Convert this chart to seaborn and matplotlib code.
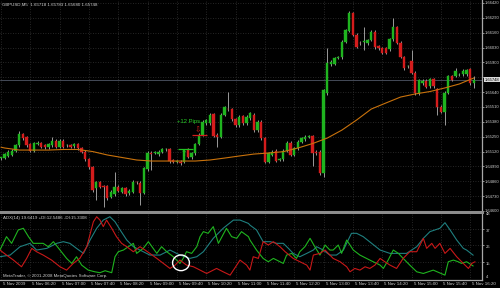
import numpy as np
import pandas as pd
import matplotlib
matplotlib.use("Agg")
import matplotlib.pyplot as plt
import seaborn as sns
from matplotlib.patches import Ellipse
from matplotlib.transforms import blended_transform_factory as blend

sns.set_theme(style="dark")
plt.rcParams['font.family'] = ['Liberation Sans', 'DejaVu Sans']

# ---------------- data ----------------
opens = [1.65060, 1.65066, 1.65084, 1.65090, 1.65127, 1.65177, 1.65273, 1.65245, 1.65186, 1.65127,
         1.65186, 1.65192, 1.65177, 1.65157, 1.65177, 1.65215, 1.65162, 1.65215, 1.65175, 1.65175,
         1.65168, 1.65186, 1.65148, 1.65119, 1.65052, 1.64982, 1.64798, 1.64853, 1.64818, 1.64818,
         1.64725, 1.64746, 1.64812, 1.64769, 1.64798, 1.64755, 1.64769, 1.64856, 1.64847, 1.64760,
         1.64965, 1.65110, 1.65108, 1.65098, 1.65119, 1.65138, 1.65140, 1.65046, 1.65029, 1.65031,
         1.65031, 1.65140, 1.65070, 1.65105, 1.65186, 1.65265, 1.65367, 1.65367, 1.65448, 1.65265,
         1.65250, 1.65440, 1.65492, 1.65490, 1.65402, 1.65352, 1.65431, 1.65367, 1.65411, 1.65440,
         1.65308, 1.65381, 1.65236, 1.65031, 1.65090, 1.65127, 1.65050, 1.65052, 1.65127, 1.65197,
         1.65090, 1.65148, 1.65206, 1.65227, 1.65250, 1.65256, 1.65119, 1.65119, 1.64930, 1.65630,
         1.65883, 1.65886, 1.65939, 1.65945, 1.66081, 1.66177, 1.66335, 1.66140, 1.66072, 1.66079,
         1.66067, 1.66096, 1.66169, 1.66043, 1.66023, 1.66023, 1.66015, 1.66102, 1.66207, 1.66072,
         1.65945, 1.65866, 1.65912, 1.65810, 1.65630, 1.65717, 1.65740, 1.65693, 1.65752, 1.65665,
         1.65512, 1.65469, 1.65635, 1.65781, 1.65781, 1.65788, 1.65798, 1.65798, 1.65840, 1.65718]
highs = [1.65075, 1.65109, 1.65132, 1.65140, 1.65190, 1.65302, 1.65285, 1.65258, 1.65199, 1.65205,
         1.65210, 1.65205, 1.65190, 1.65199, 1.65247, 1.65228, 1.65228, 1.65228, 1.65190, 1.65188,
         1.65196, 1.65199, 1.65161, 1.65132, 1.65065, 1.64995, 1.64866, 1.64866, 1.64831, 1.64831,
         1.64782, 1.64944, 1.64825, 1.64811, 1.64811, 1.64788, 1.64869, 1.64866, 1.64860, 1.64986,
         1.65123, 1.65123, 1.65123, 1.65132, 1.65153, 1.65153, 1.65153, 1.65059, 1.65044, 1.65044,
         1.65146, 1.65153, 1.65118, 1.65199, 1.65278, 1.65394, 1.65409, 1.65453, 1.65461, 1.65278,
         1.65453, 1.65520, 1.65644, 1.65503, 1.65415, 1.65438, 1.65444, 1.65438, 1.65468, 1.65453,
         1.65394, 1.65394, 1.65249, 1.65118, 1.65132, 1.65140, 1.65065, 1.65140, 1.65210, 1.65210,
         1.65161, 1.65219, 1.65249, 1.65263, 1.65269, 1.65269, 1.65132, 1.65132, 1.65671, 1.66026,
         1.65919, 1.65949, 1.65954, 1.66094, 1.66196, 1.66348, 1.66344, 1.66153, 1.66085, 1.66212,
         1.66109, 1.66182, 1.66182, 1.66056, 1.66036, 1.66036, 1.66115, 1.66286, 1.66220, 1.66085,
         1.65958, 1.65881, 1.66008, 1.65823, 1.65759, 1.65753, 1.65753, 1.65765, 1.65765, 1.65678,
         1.65525, 1.65648, 1.65794, 1.65794, 1.65848, 1.65803, 1.65840, 1.65846, 1.65853, 1.65783]
lows = [1.65045, 1.65053, 1.65071, 1.65077, 1.65114, 1.65162, 1.65223, 1.65164, 1.65114, 1.65114,
        1.65173, 1.65149, 1.65144, 1.65144, 1.65164, 1.65149, 1.65149, 1.65149, 1.65164, 1.65149,
        1.65155, 1.65135, 1.65106, 1.65039, 1.64969, 1.64770, 1.64696, 1.64799, 1.64637, 1.64698,
        1.64712, 1.64733, 1.64764, 1.64756, 1.64733, 1.64742, 1.64756, 1.64840, 1.64652, 1.64747,
        1.64952, 1.64958, 1.65097, 1.65085, 1.65106, 1.65127, 1.65024, 1.65018, 1.65018, 1.65004,
        1.65018, 1.65062, 1.65057, 1.65092, 1.65173, 1.65252, 1.65354, 1.65354, 1.65243, 1.65162,
        1.65237, 1.65427, 1.65477, 1.65389, 1.65339, 1.65339, 1.65354, 1.65354, 1.65398, 1.65295,
        1.65295, 1.65223, 1.65018, 1.65018, 1.65077, 1.65027, 1.65039, 1.65039, 1.65114, 1.65077,
        1.65077, 1.65135, 1.65193, 1.65214, 1.65237, 1.64996, 1.65092, 1.64917, 1.64900, 1.65617,
        1.65870, 1.65873, 1.65928, 1.65932, 1.66068, 1.66164, 1.66127, 1.66024, 1.66054, 1.66008,
        1.66054, 1.66083, 1.66019, 1.66010, 1.65972, 1.65972, 1.66002, 1.66089, 1.66059, 1.65937,
        1.65835, 1.65855, 1.65797, 1.65617, 1.65617, 1.65704, 1.65674, 1.65680, 1.65680, 1.65440,
        1.65456, 1.65352, 1.65622, 1.65733, 1.65768, 1.65777, 1.65785, 1.65785, 1.65704, 1.65680]
closes = [1.65068, 1.65096, 1.65119, 1.65127, 1.65177, 1.65273, 1.65236, 1.65177, 1.65127, 1.65192,
          1.65197, 1.65162, 1.65157, 1.65186, 1.65215, 1.65162, 1.65215, 1.65162, 1.65179, 1.65162,
          1.65183, 1.65148, 1.65119, 1.65052, 1.64982, 1.64783, 1.64853, 1.64812, 1.64807, 1.64711,
          1.64769, 1.64812, 1.64777, 1.64798, 1.64746, 1.64775, 1.64856, 1.64851, 1.64760, 1.64973,
          1.65110, 1.65098, 1.65112, 1.65119, 1.65140, 1.65142, 1.65037, 1.65031, 1.65033, 1.65017,
          1.65133, 1.65075, 1.65105, 1.65186, 1.65265, 1.65381, 1.65396, 1.65440, 1.65256, 1.65250,
          1.65440, 1.65507, 1.65488, 1.65402, 1.65352, 1.65425, 1.65367, 1.65425, 1.65455, 1.65308,
          1.65381, 1.65236, 1.65031, 1.65105, 1.65119, 1.65040, 1.65054, 1.65127, 1.65197, 1.65090,
          1.65148, 1.65206, 1.65236, 1.65250, 1.65256, 1.65105, 1.65105, 1.64930, 1.65658, 1.65892,
          1.65906, 1.65936, 1.65943, 1.66081, 1.66183, 1.66335, 1.66140, 1.66037, 1.66067, 1.66083,
          1.66096, 1.66169, 1.66032, 1.66023, 1.65985, 1.65985, 1.66102, 1.66212, 1.66072, 1.65950,
          1.65848, 1.65870, 1.65810, 1.65630, 1.65746, 1.65740, 1.65687, 1.65752, 1.65693, 1.65512,
          1.65469, 1.65635, 1.65781, 1.65746, 1.65827, 1.65792, 1.65827, 1.65833, 1.65717, 1.65748]

ma_bars = [0, 1, 5, 9, 13, 17, 21, 25, 29, 33, 37, 41, 45, 49, 53, 57, 61, 65, 69, 73, 77, 81, 85,
           89, 93, 97, 101, 105, 109, 113, 117, 121, 125, 129]
ma_vals = [1.65158, 1.65151, 1.65133, 1.65133, 1.65133, 1.65138, 1.65138, 1.65120, 1.65090, 1.65068,
           1.65046, 1.65037, 1.65037, 1.65037, 1.65037, 1.65046, 1.65063, 1.65081, 1.65098, 1.65107,
           1.65119, 1.65151, 1.65190, 1.65238, 1.65308, 1.65396, 1.65492, 1.65545, 1.65597, 1.65624,
           1.65645, 1.65676, 1.65711, 1.65764]

adx_bars = [-0.3, 2.5, 5.2, 7.9, 9.7, 12.5, 15.2, 17.0, 18.8, 20.6, 22.5, 24.3, 26.1, 27.9, 29.7,
            31.1, 32.5, 34.3, 36.1, 37.9, 40.6, 43.4, 46.1, 48.8, 51.5, 53.4, 55.2, 57.9, 60.6, 63.4,
            65.2, 67.5, 67.9, 69.7, 71.5, 73.4, 75.2, 77.0, 78.4, 79.7, 81.5, 83.4, 85.2, 86.1, 87.9,
            89.7, 91.5, 93.4, 94.7, 95.6, 97.0, 98.8, 101.1, 103.4, 106.1, 110.6, 113.4, 115.2, 117.0,
            119.7, 121.1, 122.5, 124.3, 126.1, 127.0, 128.8]
adx_vals = [18.6, 19.7, 25.2, 27.4, 23.0, 24.1, 27.4, 28.5, 27.4, 24.1, 20.8, 29.6, 37.3, 42.7, 44.9,
            41.6, 36.2, 29.6, 25.2, 23.0, 19.7, 19.7, 23.0, 19.7, 17.5, 18.6, 21.9, 30.7, 37.3, 42.7,
            42.7, 40.5, 39.4, 36.2, 28.5, 28.5, 27.4, 27.4, 24.1, 20.8, 18.6, 20.8, 23.0, 25.2, 23.0,
            19.7, 19.7, 23.0, 29.6, 34.0, 34.0, 31.8, 27.4, 23.0, 20.8, 20.8, 25.2, 30.7, 35.1,
            37.3, 41.0, 36.2, 29.6, 24.1, 23.0, 19.6]

pdi_bars = [-0.3, 1.5, 2.9, 4.7, 6.1, 7.5, 8.8, 10.2, 11.5, 12.9, 14.3, 16.1, 17.9, 19.3, 20.6, 22.0,
            23.8, 25.6, 27.0, 28.4, 30.2, 31.1, 32.0, 33.4, 36.1, 37.0, 38.8, 40.2, 42.5, 43.8, 45.2,
            47.0, 48.8, 49.7, 50.6, 52.0, 53.4, 54.3, 55.2, 56.5, 57.9, 59.3, 61.5, 62.9, 64.3, 65.6,
            67.5, 67.9, 69.7, 71.5, 72.9, 74.3, 77.0, 77.9, 79.3, 80.6, 81.5, 82.9, 84.3, 85.6, 87.0,
            88.4, 89.7, 90.6, 92.0, 92.9, 94.3, 96.1, 97.9, 100.6, 103.4, 104.3, 105.6, 107.0, 108.4,
            109.7, 111.5, 113.4, 115.2, 117.9, 121.1, 122.0, 123.4, 124.7, 125.6, 127.0, 128.8]
pdi_vals = [23.0, 31.8, 27.4, 36.2, 37.3, 31.8, 27.4, 27.4, 27.4, 25.2, 28.5, 23.0, 17.5, 14.2, 18.6,
            13.1, 9.8, 8.7, 8.1, 9.4, 8.1, 18.6, 21.9, 23.0, 27.4, 20.8, 24.1, 28.5, 20.8, 25.2, 21.9,
            18.6, 14.2, 17.5, 21.9, 20.8, 25.2, 31.8, 35.1, 34.0, 38.4, 27.4, 37.3, 31.8, 30.7, 35.1,
            31.8, 29.6, 23.0, 17.5, 15.3, 17.5, 14.2, 19.7, 20.8, 17.5, 21.9, 25.2, 30.7, 25.2, 19.7,
            26.3, 23.0, 23.0, 26.3, 20.8, 29.6, 23.0, 19.7, 16.4, 13.1, 10.9, 16.4, 23.0, 20.8,
            17.5, 13.1, 8.7, 7.6, 9.8, 6.5, 15.3, 16.4, 15.3, 14.2, 15.3, 12.5]

mdi_bars = [-0.3, 1.5, 3.4, 5.6, 7.0, 8.4, 9.7, 11.5, 13.8, 16.1, 17.9, 19.7, 21.5, 23.4, 25.2, 26.1,
            27.0, 27.9, 28.8, 30.2, 31.5, 32.9, 34.3, 36.1, 37.9, 39.3, 40.6, 42.5, 44.3, 46.1, 47.5,
            48.8, 50.6, 52.5, 54.3, 56.1, 58.8, 60.6, 62.5, 64.3, 65.2, 67.0, 67.9, 68.8, 70.2, 71.5,
            72.9, 74.3, 76.1, 77.5, 79.7, 83.4, 84.3, 85.2, 87.0, 88.4, 90.6, 92.5, 94.3, 95.2, 96.5,
            97.9, 99.3, 100.6, 102.0, 103.4, 104.7, 106.1, 107.9, 109.7, 111.5, 113.4, 115.2, 116.1,
            117.5, 118.4, 119.7, 121.1, 122.5, 124.3, 126.1, 127.5, 128.4, 129.3]
mdi_vals = [23.0, 19.7, 16.4, 12.0, 17.5, 24.1, 21.9, 19.7, 16.4, 12.0, 9.8, 14.2, 17.5, 25.2, 41.6,
            44.9, 42.7, 38.4, 42.7, 37.3, 31.8, 27.4, 25.2, 21.9, 25.2, 23.0, 20.8, 17.5, 14.2, 10.9,
            13.1, 16.4, 13.1, 12.0, 9.8, 7.6, 10.9, 8.7, 6.5, 13.1, 16.4, 13.1, 9.8, 18.6, 17.5, 28.5,
            26.3, 28.5, 25.2, 21.9, 17.5, 13.1, 9.8, 19.7, 20.8, 23.0, 17.5, 15.3, 12.0, 8.7, 10.9,
            9.8, 12.0, 10.9, 13.1, 17.5, 15.3, 13.1, 10.9, 17.5, 21.9, 21.9, 30.7, 24.1,
            27.4, 24.1, 27.4, 20.8, 24.1, 18.6, 14.2, 10.9, 14.2, 15.3]

price_levels = [1.66420, 1.66290, 1.66160, 1.66030, 1.65900, 1.65770, 1.65640, 1.65510,
                1.65380, 1.65250, 1.65120, 1.64990, 1.64860, 1.64730, 1.64600]
time_ticks = [0, 8, 16, 24, 32, 40, 48, 56, 64, 72, 80, 88, 96, 104, 112, 120, 128]
time_labels = ["5 Nov 2009", "5 Nov 06:20", "5 Nov 07:00", "5 Nov 07:40", "5 Nov 08:20",
               "5 Nov 09:00", "5 Nov 09:40", "5 Nov 10:20", "5 Nov 11:00", "5 Nov 11:40",
               "5 Nov 12:20", "5 Nov 13:00", "5 Nov 13:40", "5 Nov 14:20", "5 Nov 15:00",
               "5 Nov 15:40", "5 Nov 16:20"]
adx_levels = [48, 37, 26, 15, 4]
header = "GBPUSD,M5  1.65718 1.65783 1.65680 1.65748"
adx_header = "ADX(14) 19.6419 +DI:12.5486 -DI:15.3308"
copyright_text = "MetaTrader, \u00a9 2001-2008 MetaQuotes Software Corp."
last_price = 1.65748
entry_price, exit_price = 1.65142, 1.65265
entry_bars, exit_bars = (48.3, 52.4), (52.1, 56.2)

# ---------------- styling ----------------
BG = "black"
TXT = "#cfcfcf"
UP = "#1fb41f"
DN = "#d41c1c"
WICK = "#9a9a9a"
GRID = "#333333"
FS = 3.2
FSP = 3.0

W, H = 500, 288
fig = plt.figure(figsize=(W / 100, H / 100), dpi=100, facecolor=BG)
ax1 = fig.add_axes([0, 1 - 212 / H, 482 / W, 212 / H])
ax2 = fig.add_axes([0, 1 - 280 / H, 482 / W, (280 - 214) / H])

xl = (-0.27, 131.2)
for ax in (ax1, ax2):
    ax.set_facecolor(BG)
    ax.set_xlim(*xl)
    for s in ("left", "top"):
        ax.spines[s].set_visible(False)
    ax.spines["right"].set_color("#a8a8a8")
    ax.spines["right"].set_linewidth(0.9)
    ax.set_xticks(time_ticks)
    ax.grid(True, linestyle=(0, (1, 2)), color=GRID, linewidth=0.6)
ax1.spines["bottom"].set_color("#8c8c8c")
ax1.spines["bottom"].set_linewidth(2.2)
ax2.spines["bottom"].set_color("#a8a8a8")
ax2.spines["bottom"].set_linewidth(0.9)

ax1.set_ylim(1.64591, 1.66446)
ax2.set_ylim(3.3, 46.7)

# candles
n = len(opens)
x = np.arange(n)
df = pd.DataFrame({"bar": x, "open": opens, "high": highs, "low": lows, "close": closes})
up = df["close"] >= df["open"]
cols = np.where(up, UP, DN)
ax1.vlines(df["bar"], df["low"], df["high"], color=WICK, linewidth=0.7, zorder=2)
body_lo = np.minimum(df["open"], df["close"])
body_h = np.maximum(np.abs(df["close"] - df["open"]), 0.000025)
ax1.bar(df["bar"], body_h, bottom=body_lo, width=0.64, color=cols, edgecolor=cols,
        linewidth=0.3, zorder=3)

# moving average
sns.lineplot(x=ma_bars, y=ma_vals, ax=ax1, color="#c9720c", linewidth=0.8,
             estimator=None, sort=False, zorder=4)
ax1.axhline(last_price, color="#454b58", linewidth=0.7, zorder=1)

# trade annotations
ax1.hlines(entry_price, *entry_bars, color="#22c022", linewidth=0.9, zorder=5)
ax1.hlines(exit_price, *exit_bars, color="#d41c1c", linewidth=0.9, zorder=5)
ax1.text(50.0, 1.65103, "\u21e7", color="#22c022", fontsize=5.5, ha="center", va="center",
         zorder=6, family="DejaVu Sans")
ax1.text(53.7, 1.65304, "\u21e9", color="#d41c1c", fontsize=5.5, ha="center", va="center",
         zorder=6, family="DejaVu Sans")
ax1.text(48.0, 1.65379, "+12 Pips", color="#26d026", fontsize=4.2, ha="left", va="center", zorder=6)

# price axis
ax1.yaxis.tick_right()
ax1.set_yticks(price_levels)
ax1.set_yticklabels(["" if abs(p - last_price) < 0.0004 else f"{p:.5f}" for p in price_levels])
ax1.tick_params(axis="y", colors="#a8a8a8", labelcolor=TXT, labelsize=FSP, length=1.5,
                width=0.6, pad=0.6, direction="out")
ax1.tick_params(axis="x", length=0, labelbottom=False)
blend1 = blend(ax1.transAxes, ax1.transData)
ax1.text(1.0 + 2.6 / 482, last_price, f"{last_price:.5f}", transform=blend1, fontsize=FSP,
         color="black", ha="left", va="center", clip_on=False, zorder=10,
         bbox=dict(boxstyle="square,pad=0.15", fc="#d9d9d9", ec="none"))
fig.text(2 / W, 1 - 5 / H, header, fontsize=FS, color=TXT, ha="left", va="center")

# ADX panel
sns.lineplot(x=adx_bars, y=adx_vals, ax=ax2, color="#1f7f7f", linewidth=0.8,
             estimator=None, sort=False)
sns.lineplot(x=pdi_bars, y=pdi_vals, ax=ax2, color="#1fb41f", linewidth=0.8,
             estimator=None, sort=False)
sns.lineplot(x=mdi_bars, y=mdi_vals, ax=ax2, color="#c81818", linewidth=0.8,
             estimator=None, sort=False)
ax2.add_patch(Ellipse((49.1, 14.6), width=4.6, height=10.3, fill=False,
                      edgecolor="white", linewidth=1.0, zorder=6))
ax2.set_yticks([37, 26, 15])
ax2.yaxis.tick_right()
ax2.tick_params(axis="y", colors="#a8a8a8", length=1.5, width=0.6, labelright=False)
blend2 = blend(ax2.transAxes, ax2.transData)
for lv in adx_levels:
    va = "bottom" if lv == adx_levels[-1] else "top"
    ax2.text(1.0 + 4 / 482, lv, str(lv), transform=blend2, fontsize=FSP, color=TXT,
             ha="left", va=va, clip_on=False)
ax2.text(3 / 482, 1 - 3.5 / 66, adx_header, transform=ax2.transAxes, fontsize=FS, color=TXT,
         ha="left", va="center")
ax2.text(3 / 482, 4 / 66, copyright_text, transform=ax2.transAxes, fontsize=FS, color=TXT,
         ha="left", va="center")

# time axis
ax2.tick_params(axis="x", colors="#a8a8a8", length=4, width=0.6, direction="out",
                labelbottom=False)
blendx = blend(ax2.transData, ax2.transAxes)
for b, lab in zip(time_ticks, time_labels):
    ax2.text(b + 0.55, -4.2 / 66, lab, transform=blendx, fontsize=FS, color=TXT,
             ha="left", va="center", clip_on=False)

ax1.set_xlabel(""); ax1.set_ylabel(""); ax2.set_xlabel(""); ax2.set_ylabel("")
fig.savefig("out.png", dpi=100, facecolor=BG)
